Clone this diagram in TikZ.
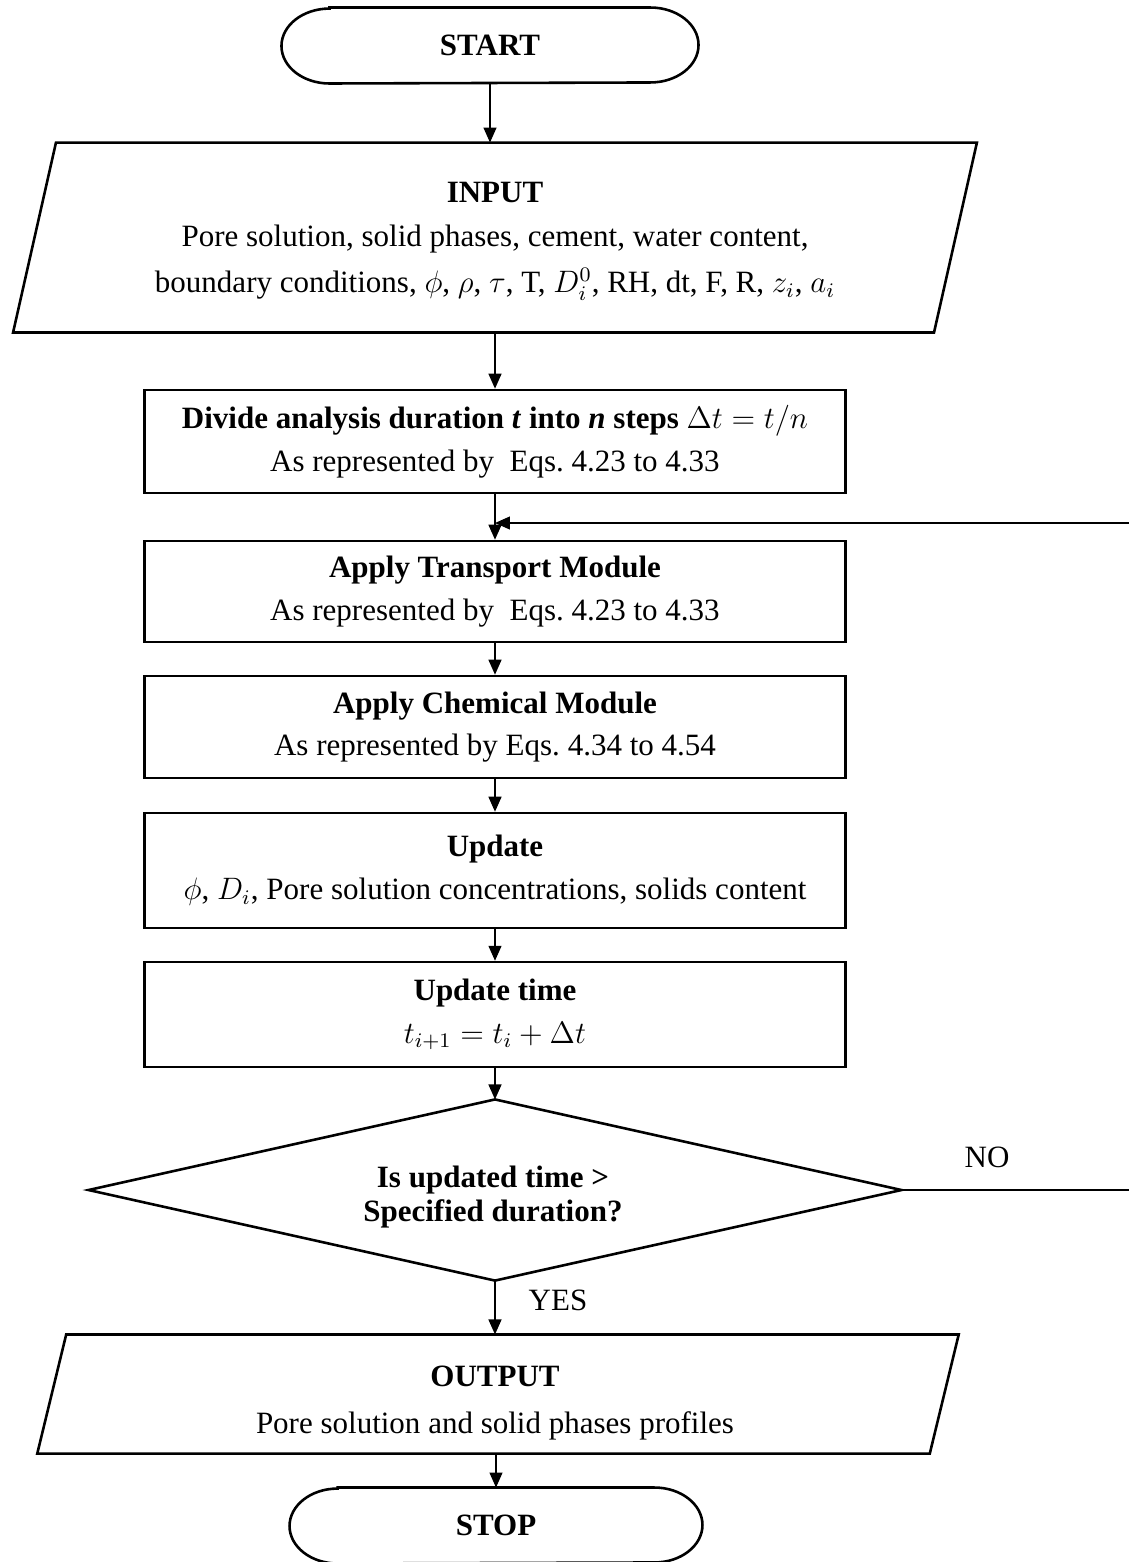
\documentclass[tikz,border=0pt]{standalone}
\usepackage{fontspec}
\setmainfont{Liberation Serif}
\usetikzlibrary{arrows.meta}
\begin{document}
\begin{tikzpicture}[x=0.387pt,y=-0.387pt,
  every node/.style={font=\fontsize{12}{16.5}\selectfont},
  frame/.style={draw=none, inner sep=0pt, align=center},
  outline/.style={draw=black, line width=1pt, line join=miter},
  box/.style={draw=black, line width=1pt, inner sep=0pt, align=center, minimum width=271.3pt},
  arr/.style={draw=black, line width=0.6pt, -{Triangle[length=5.8pt,width=5pt]}},
  plain/.style={draw=black, line width=0.6pt},
  lbl/.style={inner sep=0pt}]
\fill[white] (0,0) rectangle (1129,1562);
\useasboundingbox (0,0) rectangle (1129,1562);

% START
\node[frame, minimum width=161pt, minimum height=29pt] (start) at (490,45.5) {\textbf{START}};
\draw[outline] ([xshift=18.6pt]start.north west) -- ([xshift=-18.6pt]start.north east)
  arc[start angle=90,end angle=-90,x radius=18.6pt,y radius=14.5pt]
  -- ([xshift=18.6pt]start.south west)
  arc[start angle=270,end angle=90,x radius=18.6pt,y radius=14.5pt] -- cycle;

% INPUT
\node[frame, minimum width=356pt, minimum height=73.1pt] (inp) at (495,237.5) {};
\draw[outline] ([xshift=8.3pt]inp.north west) -- ([xshift=8.3pt]inp.north east)
  -- ([xshift=-8.3pt]inp.south east) -- ([xshift=-8.3pt]inp.south west) -- cycle;
\node[lbl, align=center, font=\fontsize{12}{17}\selectfont] (inptxt) at (495,241)
  {\textbf{INPUT}\\
   Pore solution, solid phases, cement, water content,\\[1pt]
   boundary conditions, $\phi$, $\rho$, $\tau$, T, $D_i^0$, RH, dt, F, R, $z_i$, $a_i$};

% Boxes
\node[box, minimum height=39.9pt] (div) at (495,441.5)
  {\textbf{Divide analysis duration \textit{t} into \textit{n} steps} $\Delta t = t/n$\\
   As represented by\ \ Eqs.\ 4.23 to 4.33};
\node[box, minimum height=39.1pt] (trans) at (495,591.5)
  {\textbf{Apply Transport Module}\\
   As represented by\ \ Eqs.\ 4.23 to 4.33};
\node[box, minimum height=39.5pt] (chem) at (495,727)
  {\textbf{Apply Chemical Module}\\
   As represented by Eqs.\ 4.34 to 4.54};
\node[box, minimum height=44.5pt] (upd) at (495,870.5)
  {\textbf{Update}\\
   $\phi$, $D_i$, Pore solution concentrations, solids content};
\node[box, minimum height=40.6pt] (updt) at (495,1014.5)
  {\textbf{Update time}\\
   $t_{i+1} = t_i + \Delta t$};

% Decision
\node[frame, minimum width=314.2pt, minimum height=69.7pt] (dec) at (495,1190) {};
\draw[outline] (dec.north) -- (dec.east) -- (dec.south) -- (dec.west) -- cycle;
\node[lbl, align=center, font=\fontsize{12}{13.5}\selectfont] (dectxt) at (493,1197)
  {\textbf{Is updated time >}\\ \textbf{Specified duration?}};

% OUTPUT
\node[frame, minimum width=345pt, minimum height=45.7pt] (out) at (498,1394) {};
\draw[outline] ([xshift=5.6pt]out.north west) -- ([xshift=5.6pt]out.north east)
  -- ([xshift=-5.6pt]out.south east) -- ([xshift=-5.6pt]out.south west) -- cycle;
\node[lbl, align=center] (outtxt) at (495,1403)
  {\textbf{OUTPUT}\\[2pt] Pore solution and solid phases profiles};

% STOP
\node[frame, minimum width=159.4pt, minimum height=29pt] (stop) at (496,1525.5) {\textbf{STOP}};
\draw[outline] ([xshift=18.6pt]stop.north west) -- ([xshift=-18.6pt]stop.north east)
  arc[start angle=90,end angle=-90,x radius=18.6pt,y radius=14.5pt]
  -- ([xshift=18.6pt]stop.south west)
  arc[start angle=270,end angle=90,x radius=18.6pt,y radius=14.5pt] -- cycle;

% Connectors
\draw[arr] (start.south) -- (start.south |- inp.north);
\draw[arr] (inp.south) -- (div.north);
\draw[arr] (div.south) -- (trans.north);
\coordinate (loopin) at (1129,523);
\draw[arr] (loopin) -- (loopin -| trans.north);
\draw[arr] (trans.south) -- (chem.north);
\draw[arr] (chem.south) -- (upd.north);
\draw[arr] (upd.south) -- (updt.north);
\draw[arr] (updt.south) -- (dec.north);
\draw[arr] (dec.south) -- (dec.south |- out.north);
\draw[arr] (stop.north |- out.south) -- (stop.north);
\coordinate (noend) at (1129,1190);
\draw[plain] (dec.east) -- (noend);
\node[lbl] (no) at (987,1157) {NO};
\node[lbl] (yes) at (558,1300) {YES};
\end{tikzpicture}
\end{document}
